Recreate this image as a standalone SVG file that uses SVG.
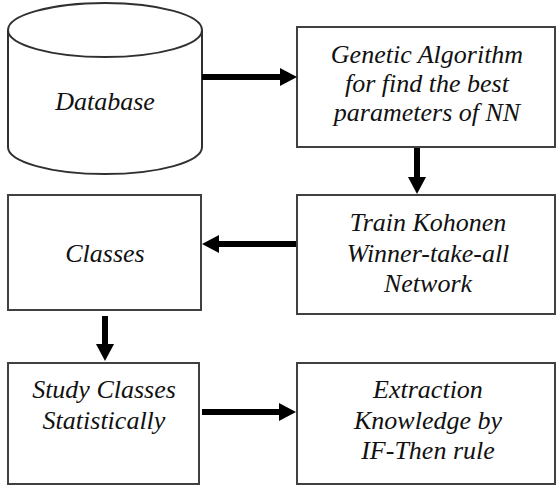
<svg xmlns="http://www.w3.org/2000/svg" width="557" height="486" viewBox="0 0 557 486">
  <style>
    .box { fill: #ffffff; stroke: #404040; stroke-width: 2; }
    .cyl { fill: #ffffff; stroke: #303030; stroke-width: 2; }
    .lbl { font-family: 'Liberation Serif', serif; font-style: italic; font-size: 26px; fill: #111111; text-anchor: middle; }
    .link { stroke: #000000; stroke-width: 6; fill: none; marker-end: url(#head); }
  </style>
  <defs>
    <marker id="head" markerUnits="userSpaceOnUse" markerWidth="18" markerHeight="18" refX="0" refY="9" orient="auto" viewBox="0 0 18 18">
      <path d="M0,0 L17,9 L0,18 Z" fill="#000000"/>
    </marker>
  </defs>

  <rect width="557" height="486" fill="#ffffff"/>

  <g id="database">
    <path class="cyl" d="M8,30 L8,147 A97,27 0 0 0 202,147 L202,30"/>
    <ellipse class="cyl" cx="105" cy="30" rx="97" ry="27"/>
    <text class="lbl" style="font-family:'Liberation Serif'" x="105" y="110">Database</text>
  </g>

  <g id="genetic">
    <rect class="box" x="297" y="27" width="258" height="120"/>
    <text class="lbl" style="font-family:'Liberation Serif'" x="427" y="63">Genetic Algorithm</text>
    <text class="lbl" style="font-family:'Liberation Serif'" x="427" y="92">for find the best</text>
    <text class="lbl" style="font-family:'Liberation Serif'" x="427" y="121">parameters of NN</text>
  </g>

  <g id="kohonen">
    <rect class="box" x="297" y="195" width="258" height="119"/>
    <text class="lbl" style="font-family:'Liberation Serif',monospace" x="428" y="231">Train Kohonen</text>
    <text class="lbl" style="font-family:'Liberation Serif'" x="428" y="262">Winner-take-all</text>
    <text class="lbl" style="font-family:'Liberation Serif'" x="428" y="292">Network</text>
  </g>

  <g id="classes">
    <rect class="box" x="8" y="195" width="193" height="115"/>
    <text class="lbl" style="font-family:'Liberation Serif'" x="105" y="262">Classes</text>
  </g>

  <g id="study">
    <rect class="box" x="8" y="363" width="191" height="121"/>
    <text class="lbl" style="font-family:'Liberation Serif'" x="104" y="398">Study Classes</text>
    <text class="lbl" style="font-family:'Liberation Serif'" x="104" y="429">Statistically</text>
  </g>

  <g id="extraction">
    <rect class="box" x="297" y="363" width="258" height="121"/>
    <text class="lbl" style="font-family:'Liberation Serif'" x="428" y="398">Extraction</text>
    <text class="lbl" style="font-family:'Liberation Serif'" x="428" y="429">Knowledge by</text>
    <text class="lbl" style="font-family:'Liberation Serif'" x="428" y="459">IF-Then rule</text>
  </g>

  <g id="connectors">
    <path class="link" d="M202,77 L280,77"/>
    <path class="link" d="M417,148 L417,177"/>
    <path class="link" d="M296,244 L219,244"/>
    <path class="link" d="M105,316 L105,344"/>
    <path class="link" d="M202,412 L279,412"/>
  </g>
</svg>
